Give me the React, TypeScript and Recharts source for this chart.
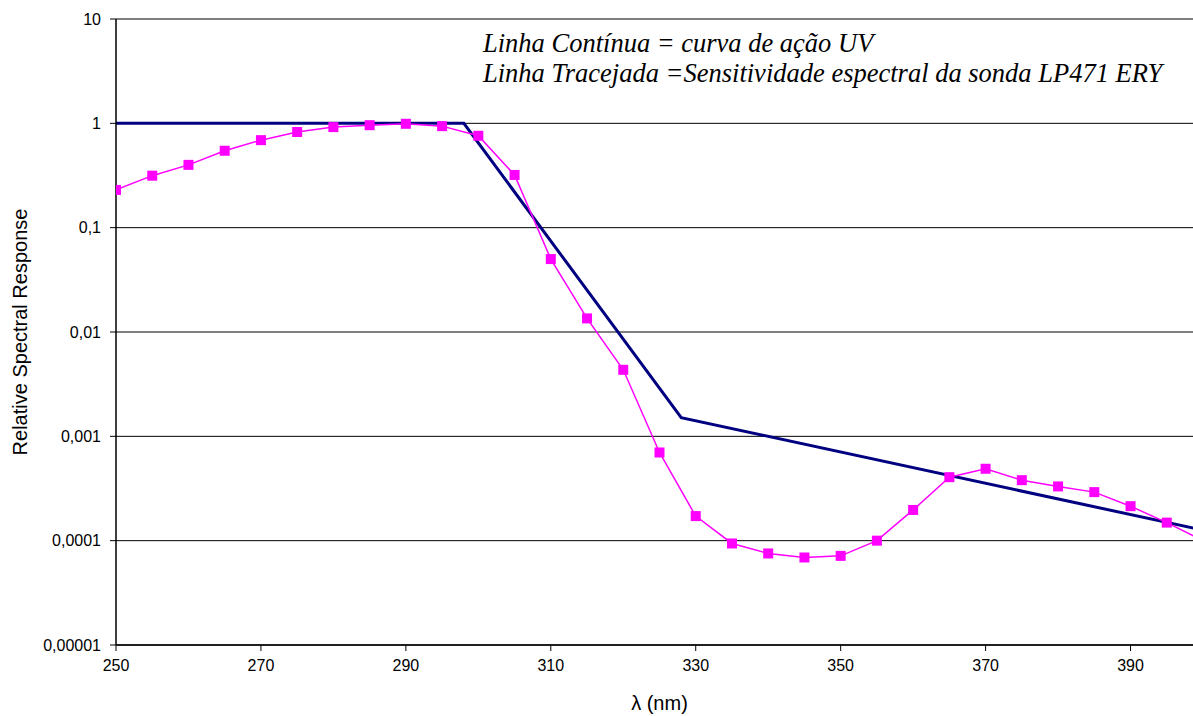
import React from "react";
import { LineChart, Line, XAxis, YAxis, CartesianGrid } from "recharts";

// CIE erythema action spectrum (breakpoints of the piecewise log-linear curve)
const actionWavelengths = [250, 298, 328, 400];
const actionValues = [1, 1, 0.00151, 0.000126];

// LP471 ERY probe spectral sensitivity, every 5 nm
const probeWavelengths = [
  250, 255, 260, 265, 270, 275, 280, 285, 290, 295, 300, 305, 310, 315, 320,
  325, 330, 335, 340, 345, 350, 355, 360, 365, 370, 375, 380, 385, 390, 395, 400,
];
const probeValues = [
  0.23, 0.315, 0.4, 0.546, 0.69, 0.826, 0.92, 0.96, 0.99, 0.94, 0.76, 0.32,
  0.05, 0.0135, 0.00434, 0.0007, 0.000172, 0.000094, 0.0000754, 0.000069,
  0.0000715, 0.0001, 0.000197, 0.000406, 0.000489, 0.00038, 0.000331,
  0.000292, 0.000214, 0.000149, 0.0001,
];

const xTicks = [250, 270, 290, 310, 330, 350, 370, 390];
const yTicks = [0.00001, 0.0001, 0.001, 0.01, 0.1, 1, 10];
const yTickLabels = ["0,00001", "0,0001", "0,001", "0,01", "0,1", "1", "10"];

const actionData = actionWavelengths.map((w, i) => ({ w, v: actionValues[i] }));
const probeData = probeWavelengths.map((w, i) => ({ w, v: probeValues[i] }));

const SquareDot = (props: any) => {
  const { cx, cy, index } = props;
  if (cx == null || cy == null) return <g key={`d${index}`} />;
  return (
    <rect
      key={`d${index}`}
      x={cx - 5}
      y={cy - 5}
      width={10}
      height={10}
      fill="#FF00FF"
      stroke="none"
    />
  );
};

const tickFont = { fontFamily: "'Liberation Sans', Arial, sans-serif", fontSize: 16, fill: "#000" };

export default function App() {
  return (
    <div
      style={{
        position: "fixed",
        left: 0,
        top: 0,
        width: 1193,
        height: 716,
        overflow: "hidden",
        background: "#fff",
      }}
    >
      <LineChart
        width={1210}
        height={716}
        margin={{ top: 19, right: 7, left: 0, bottom: 0 }}
      >
        <CartesianGrid vertical={false} stroke="#000" strokeWidth={1} />
        <XAxis
          type="number"
          dataKey="w"
          domain={[250, 400]}
          ticks={xTicks}
          allowDataOverflow
          height={71}
          tickSize={6}
          tickMargin={9}
          tick={tickFont}
          axisLine={{ stroke: "#000", strokeWidth: 1.5 }}
          tickLine={{ stroke: "#000" }}
          label={{
            value: "λ (nm)",
            position: "insideBottom",
            offset: 6,
            style: { fontFamily: "'Liberation Sans', Arial, sans-serif", fontSize: 20, fill: "#000" },
          }}
        />
        <YAxis
          type="number"
          scale="log"
          domain={[0.00001, 10]}
          ticks={yTicks}
          allowDataOverflow
          width={116}
          tickSize={6}
          tickMargin={9}
          tick={tickFont}
          tickFormatter={(v: number) => yTickLabels[yTicks.findIndex((t) => Math.abs(t - v) / t < 1e-6)] ?? String(v)}
          axisLine={{ stroke: "#000", strokeWidth: 1.5 }}
          tickLine={{ stroke: "#000" }}
          label={{
            value: "Relative Spectral Response",
            angle: -90,
            position: "center",
            dx: -38,
            style: { fontFamily: "'Liberation Sans', Arial, sans-serif", fontSize: 20, fill: "#000", textAnchor: "middle" },
          }}
        />
        <Line
          data={actionData}
          dataKey="v"
          type="linear"
          stroke="#000080"
          strokeWidth={3}
          dot={false}
          activeDot={false}
          isAnimationActive={false}
        />
        <Line
          data={probeData}
          dataKey="v"
          type="linear"
          stroke="#FF00FF"
          strokeWidth={1.5}
          dot={<SquareDot />}
          activeDot={false}
          isAnimationActive={false}
        />
      </LineChart>
      <div
        style={{
          position: "absolute",
          left: 483,
          top: 28,
          fontFamily: "'Liberation Serif', 'Times New Roman', serif",
          fontStyle: "italic",
          fontSize: 26.5,
          lineHeight: "30px",
          color: "#000",
          whiteSpace: "nowrap",
        }}
      >
        <div>Linha Contínua = curva de ação UV</div>
        <div>Linha Tracejada =Sensitividade espectral da sonda LP471 ERY</div>
      </div>
    </div>
  );
}
